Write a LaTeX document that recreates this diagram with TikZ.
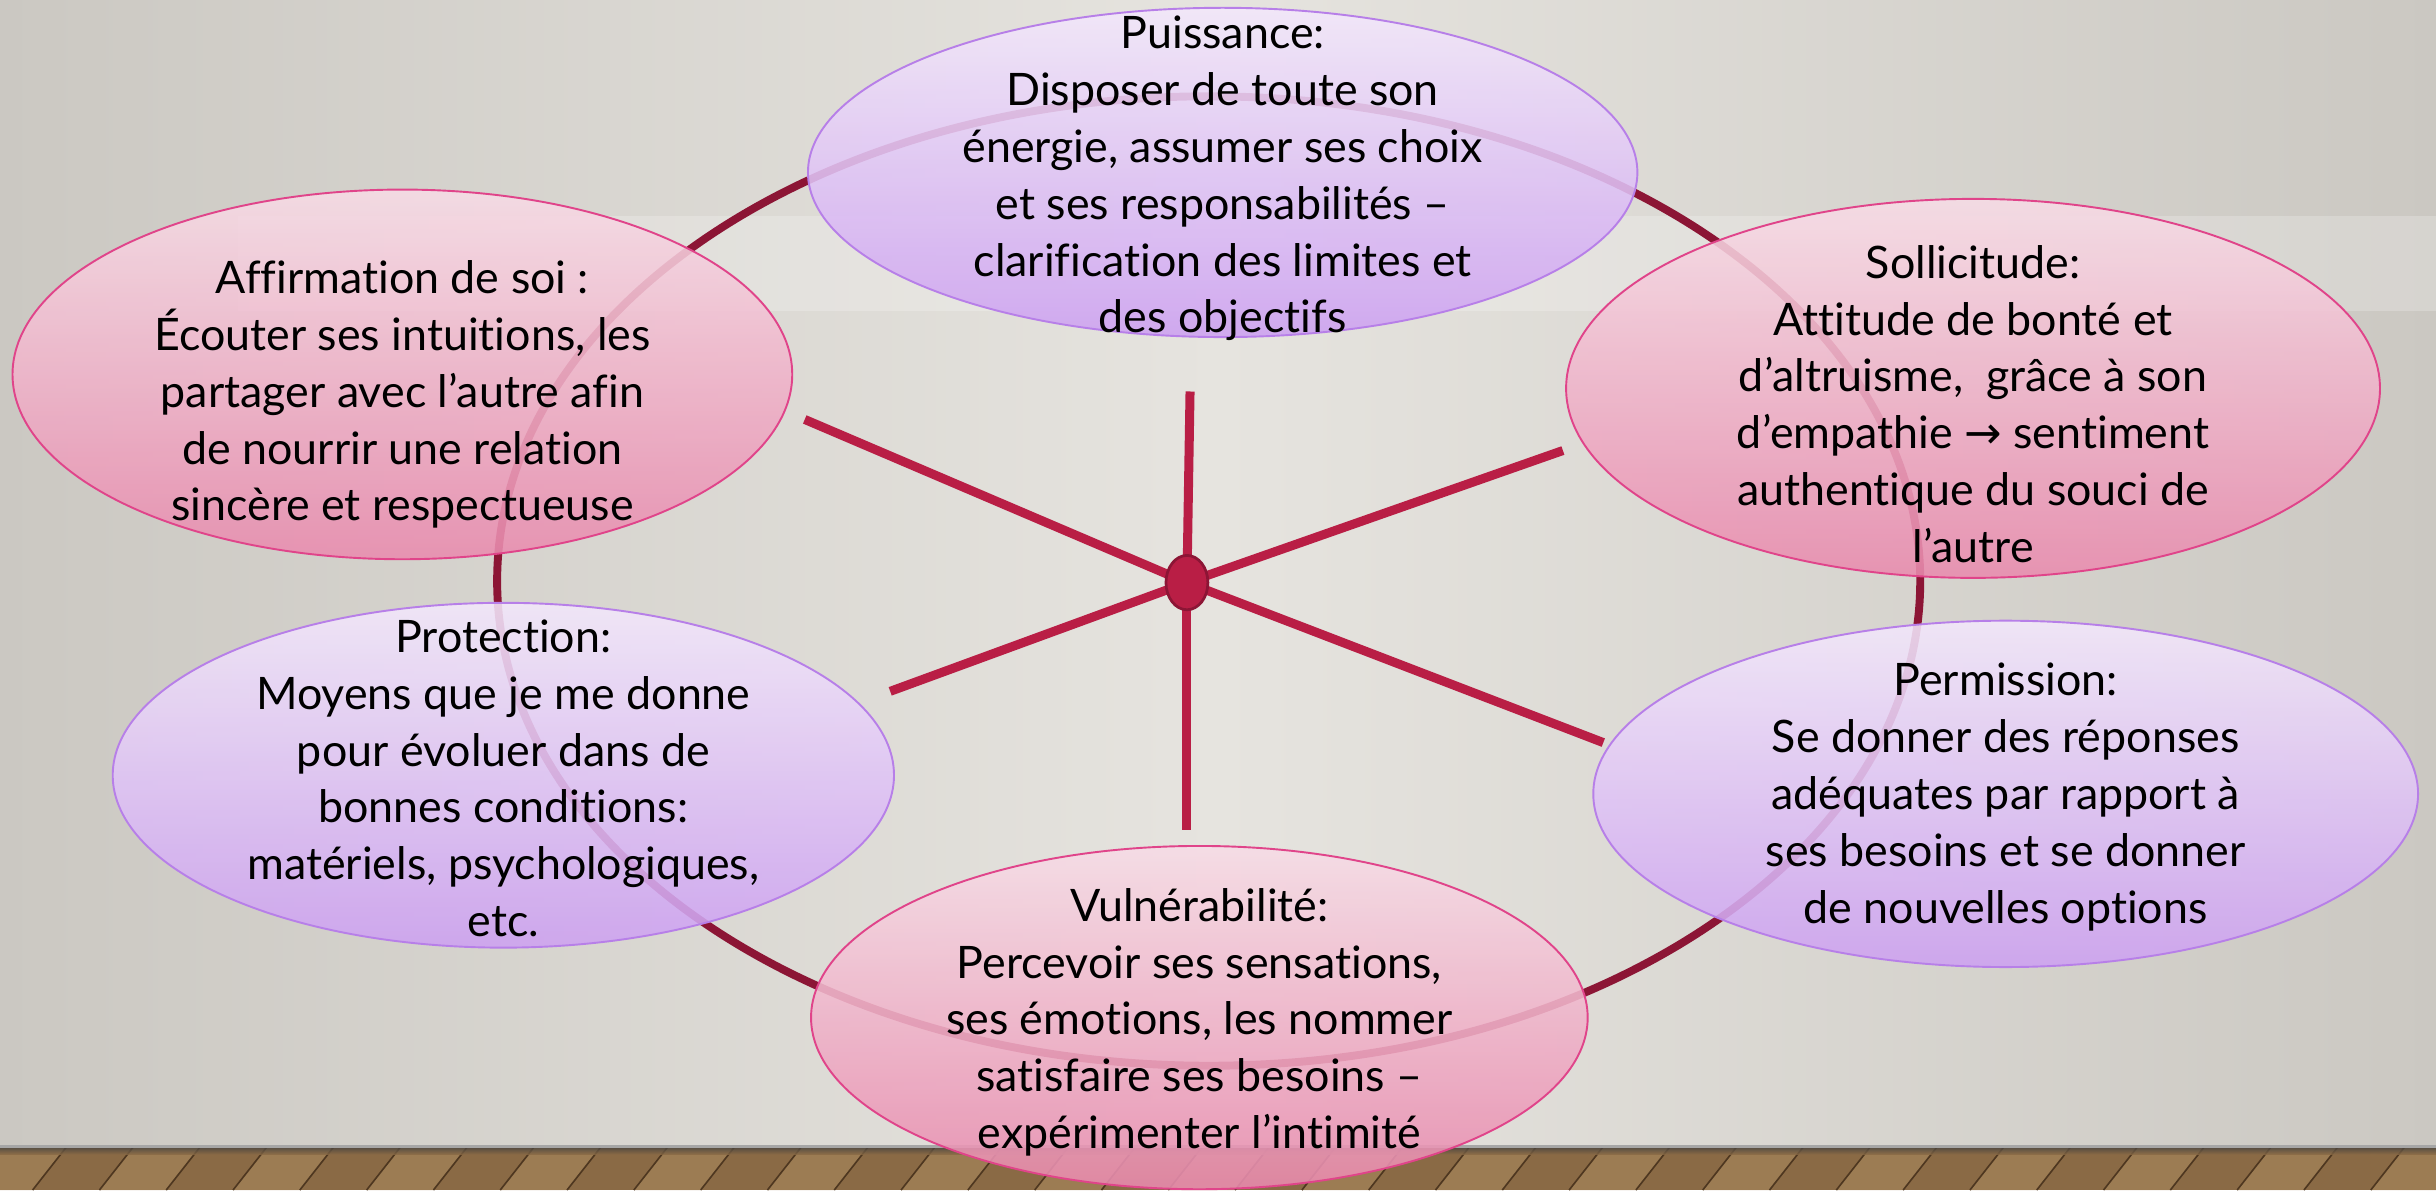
\documentclass[tikz,border=0pt]{standalone}
\usepackage{fontspec}
\setmainfont{Lato}[Ligatures=NoCommon]
\newfontfamily\symfont{DejaVu Sans}
\usetikzlibrary{shapes.geometric, positioning}
\definecolor{ringred}{HTML}{8C1535}
\definecolor{spokered}{HTML}{B91E45}
\definecolor{pinkline}{HTML}{E0448A}
\definecolor{pinktop}{HTML}{F7DCE6}
\definecolor{pinkbot}{HTML}{E98BAE}
\definecolor{lilacline}{HTML}{B77FE8}
\definecolor{lilactop}{HTML}{F3E8FB}
\definecolor{lilacbot}{HTML}{CDA1F1}
\definecolor{walledge}{HTML}{CBC8C2}
\definecolor{wallmid}{HTML}{E6E4DF}
\definecolor{plankmid}{HTML}{8A6A45}
\definecolor{plankdark}{HTML}{4E3720}
\definecolor{planklight}{HTML}{A5855A}

\begin{document}
\begin{tikzpicture}[
      x=0.02cm, y=-0.02cm,
      bubble/.style={ellipse, inner sep=0pt, outer sep=0pt, line width=0.7pt, fill opacity=0.88},
      pinkbub/.style={bubble, draw=pinkline, top color=pinktop, bottom color=pinkbot},
      lilacbub/.style={bubble, draw=lilacline, top color=lilactop, bottom color=lilacbot},
      txt/.style={align=center, text=black, font=\fontsize{16.4}{20.8}\selectfont},
      ring/.style={draw=ringred, line width=2.9pt},
      spoke/.style={draw=spokered, line width=3.3pt},
      hub/.style={ellipse, minimum width=0.54cm, minimum height=0.7cm, inner sep=0pt,
                  fill=spokered, draw=ringred, line width=1pt},
      ]

      \useasboundingbox (0,0) rectangle (1568,766);
      \shade[left color=walledge, right color=walledge, middle color=wallmid] (0,0) rectangle (1568,738);
      \fill[white, opacity=0.22] (153,139) rectangle (1568,200);
      \fill[plankmid] (0,738) rectangle (1568,766);
      \foreach \x in {0,86,...,1660}
        \fill[planklight, opacity=0.7]
          (\x,738) -- (\x+43,738) -- (\x+21,766) -- (\x-22,766) -- cycle;
      \foreach \x in {0,43,...,1620}
        \draw[plankdark, line width=0.6pt] (\x,738) -- (\x-22,766);
      \shade[top color=black!75, bottom color=plankmid, opacity=0.8] (0,738) rectangle (1568,743);
      \draw[black!35, line width=0.8pt] (0,738) -- (1568,738);

      \draw[ring] (778,374) ellipse [x radius=458, y radius=312];

      \coordinate (ctr) at (764,375);
      \coordinate (s-up)    at (766,252);
      \coordinate (s-down)  at (764,534);
      \coordinate (s-ul)    at (518,270);
      \coordinate (s-dr)    at (1032,478);
      \coordinate (s-dl)    at (573,445);
      \coordinate (s-ur)    at (1006,290);
      \foreach \e in {s-up, s-down, s-ul, s-dr, s-dl, s-ur}
        \draw[spoke] (ctr) -- (\e);
      \node[hub] (hub) at (ctr) {};

      \node[lilacbub, minimum width=10.68cm, minimum height=4.24cm] (puissance)     at (787,111) {};
      \node[pinkbub,  minimum width=10.04cm, minimum height=4.76cm] (affirmation)   at (259,241) {};
      \node[pinkbub,  minimum width=10.48cm, minimum height=4.88cm] (sollicitude)   at (1270,250) {};
      \node[lilacbub, minimum width=10.06cm, minimum height=4.44cm] (protection)    at (324,499) {};
      \node[lilacbub, minimum width=10.62cm, minimum height=4.46cm] (permission)    at (1291,511) {};
      \node[pinkbub,  minimum width=10.00cm, minimum height=4.42cm] (vulnerabilite) at (772,655) {};

      \node[txt] (puissance-t) at (787,115)
        {Puissance:\\Disposer de toute son\\énergie, assumer ses choix\\et ses responsabilités –\\clarification des limites et\\des objectifs};
      \node[txt] (affirmation-t) at (259,254)
        {Affirmation de soi :\\Écouter ses intuitions, les\\partager avec l’autre afin\\de nourrir une relation\\sincère et respectueuse};
      \node[txt] (sollicitude-t) at (1270,260)
        {Sollicitude:\\Attitude de bonté et\\d’altruisme,~ grâce à son\\d’empathie {\symfont →} sentiment\\authentique du souci de\\l’autre};
      \node[txt] (protection-t) at (324,501)
        {Protection:\\Moyens que je me donne\\pour évoluer dans de\\bonnes conditions:\\matériels, psychologiques,\\etc.};
      \node[txt] (permission-t) at (1291,513)
        {Permission:\\Se donner des réponses\\adéquates par rapport à\\ses besoins et se donner\\de nouvelles options};
      \node[txt] (vulnerabilite-t) at (772,658)
        {Vulnérabilité:\\Percevoir ses sensations,\\ses émotions, les nommer\\satisfaire ses besoins –\\expérimenter l’intimité};
    \end{tikzpicture}
\end{document}
